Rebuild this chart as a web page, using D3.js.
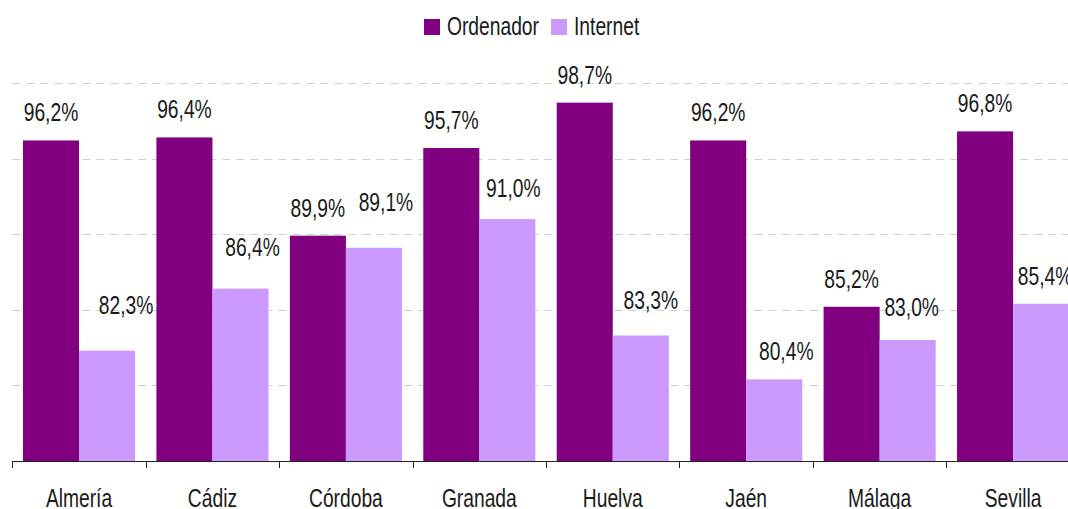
<!DOCTYPE html>
<html>
<head>
<meta charset="utf-8">
<script src="https://cdn.jsdelivr.net/npm/d3@7"></script>
<style>
  html, body { margin: 0; padding: 0; background: #fff; overflow: hidden; }
  svg { display: block; }
  text { font-family: "Liberation Sans", Arial, sans-serif; fill: #1a1a1a; }
</style>
</head>
<body>
<svg id="chart" width="1068" height="509"></svg>
<script>
// ---- data ----
const categories = ["Almería", "Cádiz", "Córdoba", "Granada", "Huelva", "Jaén", "Málaga", "Sevilla"];
const seriesNames = ["Ordenador", "Internet"];
const ordenador = [96.2, 96.4, 89.9, 95.7, 98.7, 96.2, 85.2, 96.8];
const internet  = [82.3, 86.4, 89.1, 91.0, 83.3, 80.4, 83.0, 85.4];
const yTicks = [75, 80, 85, 90, 95, 100];

// ---- layout (not data) ----
const colors = ["#800080", "#CC99FF"];
// manual nudges of the Internet value labels [dx, extra lift]
const internetLabelNudge = [[19, 18], [12, 14], [12, 18], [6, 3], [10, 8], [12, 0], [4, 5], [4, 0]];

const svg = d3.select("#chart");
const fontSize = 25;
const narrow = 0.77; // horizontal condensing to mimic a narrow face

// helper: place condensed text at (px, py)
function place(sel, px, py) {
  sel.attr("transform", (d, i) => `translate(${px(d, i)},${py(d, i)}) scale(${narrow},1)`)
     .attr("x", 0).attr("y", 0);
}

const x = d3.scaleBand()
  .domain(categories)
  .range([12.3, 1079.8])
  .paddingInner(0.16)
  .paddingOuter(0.08);

const xs = d3.scaleBand()
  .domain(seriesNames)
  .range([0, x.bandwidth()]);

const y = d3.scaleLinear().domain([75, 100]).range([461, 83]);

// gridlines
svg.append("g")
  .selectAll("line")
  .data(yTicks.filter(t => t > 75))
  .join("line")
  .attr("x1", 12.3)
  .attr("x2", 1068)
  .attr("y1", d => Math.round(y(d)) + 0.5)
  .attr("y2", d => Math.round(y(d)) + 0.5)
  .attr("stroke", "#d0d0d0")
  .attr("stroke-width", 1)
  .attr("stroke-dasharray", "8,6");

// bars
const rows = categories.map((c, i) => ({ cat: c, i, vals: [ordenador[i], internet[i]] }));

const groups = svg.append("g")
  .selectAll("g")
  .data(rows)
  .join("g")
  .attr("transform", d => `translate(${x(d.cat)},0)`);

groups.selectAll("rect")
  .data(d => d.vals.map((v, k) => ({ v, k, i: d.i })))
  .join("rect")
  .attr("x", d => xs(seriesNames[d.k]))
  .attr("width", xs.bandwidth())
  .attr("y", d => y(d.v))
  .attr("height", d => y(75) - y(d.v))
  .attr("fill", d => colors[d.k]);

const fmt = v => v.toFixed(1).replace(".", ",") + "%";

groups.selectAll("text.val")
  .data(d => d.vals.map((v, k) => ({ v, k, i: d.i })))
  .join("text")
  .attr("class", "val")
  .attr("text-anchor", "middle")
  .attr("font-size", fontSize)
  .text(d => fmt(d.v))
  .call(place,
    d => xs(seriesNames[d.k]) + xs.bandwidth() / 2 + (d.k === 1 ? internetLabelNudge[d.i][0] : 0),
    d => y(d.v) - 19 - (d.k === 1 ? internetLabelNudge[d.i][1] : 0));

// x axis
const step = x.step();
const axisG = svg.append("g");
axisG.append("line")
  .attr("x1", 12.3).attr("x2", 1068)
  .attr("y1", 461.5).attr("y2", 461.5)
  .attr("stroke", "#222").attr("stroke-width", 1);

axisG.selectAll("line.tick")
  .data(categories)
  .join("line")
  .attr("class", "tick")
  .attr("x1", d => Math.round(x(d) - step * x.paddingInner() / 2) + 0.5)
  .attr("x2", d => Math.round(x(d) - step * x.paddingInner() / 2) + 0.5)
  .attr("y1", 461)
  .attr("y2", 468)
  .attr("stroke", "#222");

axisG.selectAll("text")
  .data(categories)
  .join("text")
  .attr("text-anchor", "middle")
  .attr("font-size", fontSize)
  .text(d => d)
  .call(place, d => x(d) + x.bandwidth() / 2, () => 507);

// legend
const legendItems = [
  { name: seriesNames[0], color: colors[0], x: 424 },
  { name: seriesNames[1], color: colors[1], x: 551 }
];
const lg = svg.append("g").selectAll("g").data(legendItems).join("g")
  .attr("transform", d => `translate(${d.x},19)`);
lg.append("rect").attr("width", 16).attr("height", 16).attr("fill", d => d.color);
lg.append("text").attr("font-size", fontSize).text(d => d.name)
  .call(place, () => 23, () => 16);
</script>
</body>
</html>
